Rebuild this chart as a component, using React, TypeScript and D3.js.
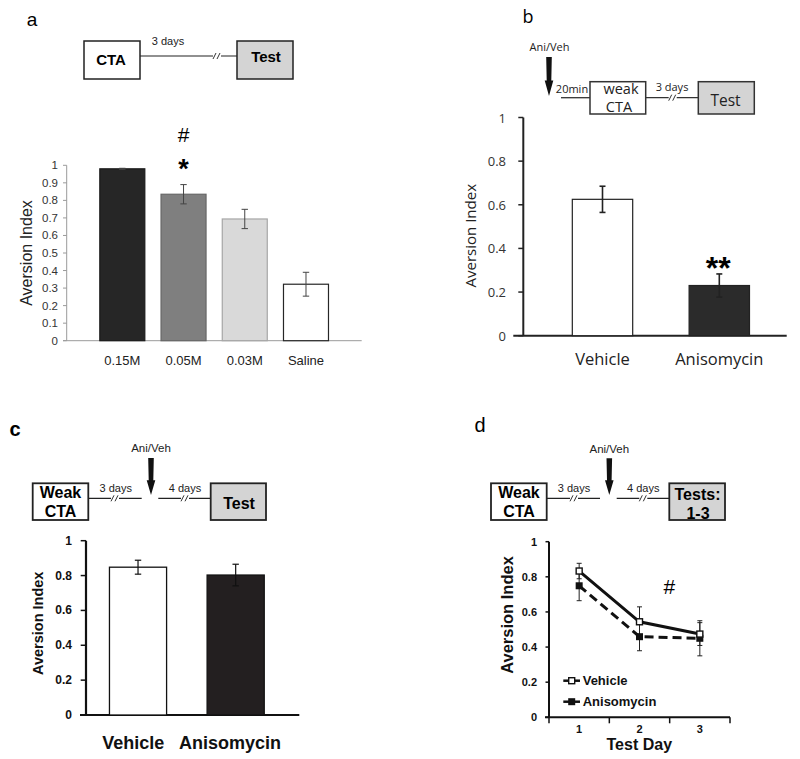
import React from 'react';
import * as d3 from 'd3';

const concentrations = ['0.15M', '0.05M', '0.03M', 'Saline'];
const aversionA = [0.98, 0.835, 0.694, 0.322];
const semA = [0.003, 0.055, 0.055, 0.068];
const ticksA = [0, 0.1, 0.2, 0.3, 0.4, 0.5, 0.6, 0.7, 0.8, 0.9, 1];

const groupsB = ['Vehicle', 'Anisomycin'];
const aversionB = [0.625, 0.23];
const semB = [0.06, 0.053];
const ticksB = [0, 0.2, 0.4, 0.6, 0.8, 1];

const groupsC = ['Vehicle', 'Anisomycin'];
const aversionC = [0.848, 0.803];
const semC = [0.04, 0.062];
const ticksC = [0, 0.2, 0.4, 0.6, 0.8, 1];

const testDays = ['1', '2', '3'];
const vehicleD = [0.833, 0.544, 0.474];
const vehicleSemD = [0.044, 0.085, 0.065];
const anisomycinD = [0.749, 0.459, 0.45];
const anisomycinSemD = [0.085, 0.08, 0.1];
const ticksD = [0, 0.2, 0.4, 0.6, 0.8, 1];

const ARIAL = 'Liberation Sans, Arial, sans-serif';
const OPEN = '"Open Sans", "Noto Sans", sans-serif';

function Break({ x, y, color = '#333' }: { x: number; y: number; color?: string }) {
  return (
    <g>
      <rect x={x - 4} y={y - 2} width={8} height={4} fill="#fff" />
      <line x1={x - 4} y1={y + 3} x2={x - 1} y2={y - 3} stroke={color} strokeWidth={1} />
      <line x1={x} y1={y + 3} x2={x + 3} y2={y - 3} stroke={color} strokeWidth={1} />
    </g>
  );
}

function Arrow({ x, top, bottom }: { x: number; top: number; bottom: number }) {
  const h = bottom - top;
  const s = top + h * 0.6;
  const pts = [
    [x - 2.8, top],
    [x + 2.8, top],
    [x + 2.3, s],
    [x + 4.3, s],
    [x, bottom],
    [x - 4.3, s],
    [x - 2.3, s],
  ];
  return <polygon points={pts.map((p) => p.join(',')).join(' ')} fill="#111" />;
}

function ErrBar({ x, y0, y1, cap, color, w }: { x: number; y0: number; y1: number; cap: number; color: string; w: number }) {
  return (
    <g stroke={color} strokeWidth={w}>
      <line x1={x} x2={x} y1={y0} y2={y1} />
      <line x1={x - cap} x2={x + cap} y1={y0} y2={y0} />
      <line x1={x - cap} x2={x + cap} y1={y1} y2={y1} />
    </g>
  );
}

function PanelA() {
  const y = d3.scaleLinear().domain([0, 1]).range([340.7, 165.3]);
  const x = d3.scaleBand().domain(concentrations).range([91.7, 336.6]).paddingInner(0.265).paddingOuter(0.1325);
  const fills = ['#262626', '#7f7f7f', '#d9d9d9', '#ffffff'];
  const strokes = ['#1a1a1a', '#666', '#a6a6a6', '#262626'];
  const axisColor = '#9a9a9a';
  return (
    <g fontFamily={ARIAL}>
      <text x={32} y={19} fontSize={19} textAnchor="middle" dominantBaseline="central">a</text>
      <line x1={140} x2={237} y1={56} y2={56} stroke="#222" strokeWidth={1.2} />
      <Break x={217} y={56} />
      <rect x={84} y={41} width={56} height={38} fill="#fff" stroke="#222" strokeWidth={1.5} />
      <text x={111} y={59.5} fontSize={15} fontWeight="bold" textAnchor="middle" dominantBaseline="central">CTA</text>
      <rect x={237} y={41} width={56} height={38} fill="#d4d4d4" stroke="#222" strokeWidth={1.5} />
      <text x={266} y={56.5} fontSize={15} fontWeight="bold" textAnchor="middle" dominantBaseline="central">Test</text>
      <text x={168} y={41} fontSize={11} fill="#222" textAnchor="middle" dominantBaseline="central">3 days</text>

      <line x1={66.7} x2={66.7} y1={y(1)} y2={y(0)} stroke={axisColor} strokeWidth={1} />
      <line x1={63} x2={361.7} y1={y(0)} y2={y(0)} stroke={axisColor} strokeWidth={1} />
      {ticksA.map((t) => (
        <g key={t}>
          <line x1={63} x2={66.7} y1={y(t)} y2={y(t)} stroke={axisColor} strokeWidth={1} />
          <text x={58} y={y(t)} fontSize={11.5} fill="#333" textAnchor="end" dominantBaseline="central">{String(t)}</text>
        </g>
      ))}
      <text transform={`translate(26.7,253) rotate(-90)`} fontSize={16} fill="#222" textAnchor="middle" dominantBaseline="central">Aversion Index</text>
      {concentrations.map((c, i) => {
        const bx = x(c)!;
        const cx = bx + x.bandwidth() / 2;
        return (
          <g key={c}>
            <rect x={bx} y={y(aversionA[i])} width={x.bandwidth()} height={y(0) - y(aversionA[i])} fill={fills[i]} stroke={strokes[i]} strokeWidth={1.2} />
            <ErrBar x={cx} y0={y(aversionA[i] + semA[i])} y1={y(aversionA[i] - semA[i])} cap={3.2} color="#444" w={1} />
            <text x={cx} y={360} fontSize={13} fill="#222" textAnchor="middle" dominantBaseline="central">{c}</text>
          </g>
        );
      })}
      <text x={x('0.05M')! + x.bandwidth() / 2} y={134} fontSize={21} textAnchor="middle" dominantBaseline="central">#</text>
      <text x={x('0.05M')! + x.bandwidth() / 2} y={169} fontSize={27} fontWeight="bold" textAnchor="middle" dominantBaseline="central">*</text>
    </g>
  );
}

function PanelB() {
  const y = d3.scaleLinear().domain([0, 1]).range([335.7, 117.5]);
  const x = d3.scaleBand().domain(groupsB).range([544.1, 777.7]).paddingInner(0.483).paddingOuter(0.2415);
  const fills = ['#ffffff', '#2b2b2b'];
  return (
    <g fontFamily={OPEN}>
      <text x={528} y={16} fontSize={18} textAnchor="middle" dominantBaseline="central">b</text>
      <text x={549.5} y={46.7} fontSize={11} fill="#222" textAnchor="middle" dominantBaseline="central">Ani/Veh</text>
      <Arrow x={549} top={57} bottom={96} />
      <text x={572} y={88} fontSize={11} fill="#222" textAnchor="middle" dominantBaseline="central">20min</text>
      <line x1={561} x2={590} y1={97.7} y2={97.7} stroke="#333" strokeWidth={1.3} />
      <line x1={645.7} x2={698.3} y1={97.7} y2={97.7} stroke="#333" strokeWidth={1.3} />
      <Break x={672.7} y={97.7} />
      <text x={672} y={86} fontSize={11} fill="#222" textAnchor="middle" dominantBaseline="central">3 days</text>
      <rect x={590} y={81.7} width={55.7} height={32.3} fill="#fff" stroke="#333" strokeWidth={1.5} />
      <text x={621} y={88} fontSize={14.5} fill="#222" textAnchor="middle" dominantBaseline="central">weak</text>
      <text x={619} y={106} fontSize={14.5} fill="#222" textAnchor="middle" dominantBaseline="central">CTA</text>
      <rect x={698.3} y={81.7} width={56} height={32.3} fill="#d4d4d4" stroke="#333" strokeWidth={1.5} />
      <text x={725.5} y={100} fontSize={15.5} fill="#222" textAnchor="middle" dominantBaseline="central">Test</text>

      <line x1={523.3} x2={523.3} y1={y(1)} y2={y(0)} stroke="#222" strokeWidth={2} />
      <line x1={513.3} x2={786.7} y1={y(0)} y2={y(0)} stroke="#222" strokeWidth={2} />
      {ticksB.map((t) => (
        <g key={t}>
          <line x1={518.3} x2={523.3} y1={y(t)} y2={y(t)} stroke="#222" strokeWidth={1.5} />
          <text x={506} y={y(t)} fontSize={13} fill="#333" textAnchor="end" dominantBaseline="central">{String(t)}</text>
        </g>
      ))}
      <text transform={`translate(470,235.7) rotate(-90)`} fontSize={15} fill="#222" textAnchor="middle" dominantBaseline="central">Aversion Index</text>
      {groupsB.map((g, i) => {
        const bx = x(g)!;
        const cx = bx + x.bandwidth() / 2;
        return (
          <g key={g}>
            <rect x={bx} y={y(aversionB[i])} width={x.bandwidth()} height={y(0) - y(aversionB[i])} fill={fills[i]} stroke="#222" strokeWidth={1.2} />
            <ErrBar x={cx} y0={y(aversionB[i] + semB[i])} y1={y(aversionB[i] - semB[i])} cap={3} color="#222" w={1.6} />
            <text x={cx} y={358} fontSize={16.5} fill="#222" textAnchor="middle" dominantBaseline="central">{g}</text>
          </g>
        );
      })}
      <text x={x('Anisomycin')! + x.bandwidth() / 2 - 1} y={268} fontSize={32} fontFamily={ARIAL} fontWeight="bold" textAnchor="middle" dominantBaseline="central">**</text>
    </g>
  );
}

function PanelC() {
  const y = d3.scaleLinear().domain([0, 1]).range([715, 540.7]);
  const x = d3.scaleBand().domain(groupsC).range([89.2, 284.5]).paddingInner(0.415).paddingOuter(0.2075);
  const fills = ['#ffffff', '#231f20'];
  return (
    <g fontFamily={ARIAL}>
      <text x={15} y={429} fontSize={20} fontWeight="bold" textAnchor="middle" dominantBaseline="central">c</text>
      <text x={151} y={448.3} fontSize={11.5} fill="#222" textAnchor="middle" dominantBaseline="central">Ani/Veh</text>
      <Arrow x={151} top={458} bottom={495} />
      <line x1={88.3} x2={141.7} y1={498.3} y2={498.3} stroke="#222" strokeWidth={1.2} />
      <Break x={115} y={498.3} />
      <line x1={158.3} x2={210.7} y1={498.3} y2={498.3} stroke="#222" strokeWidth={1.2} />
      <Break x={185} y={498.3} />
      <text x={115.7} y={487.7} fontSize={11} fill="#222" textAnchor="middle" dominantBaseline="central">3 days</text>
      <text x={185} y={487.7} fontSize={11} fill="#222" textAnchor="middle" dominantBaseline="central">4 days</text>
      <rect x={32.7} y={483.3} width={55.6} height={36.7} fill="#fff" stroke="#222" strokeWidth={1.8} />
      <text x={60.5} y={492} fontSize={16} fontWeight="bold" textAnchor="middle" dominantBaseline="central">Weak</text>
      <text x={60.5} y={511} fontSize={16} fontWeight="bold" textAnchor="middle" dominantBaseline="central">CTA</text>
      <rect x={210.7} y={483.3} width={55.3} height={36.7} fill="#d4d4d4" stroke="#222" strokeWidth={1.8} />
      <text x={239} y={503} fontSize={16} fontWeight="bold" textAnchor="middle" dominantBaseline="central">Test</text>

      <line x1={86} x2={86} y1={y(1)} y2={y(0)} stroke="#111" strokeWidth={2.2} />
      <line x1={80} x2={299.3} y1={y(0)} y2={y(0)} stroke="#111" strokeWidth={2.2} />
      {ticksC.map((t) => (
        <g key={t}>
          <line x1={80.7} x2={86} y1={y(t)} y2={y(t)} stroke="#111" strokeWidth={1.5} />
          <text x={72} y={y(t)} fontSize={12} fontWeight="bold" fill="#111" textAnchor="end" dominantBaseline="central">{String(t)}</text>
        </g>
      ))}
      <text transform={`translate(38.3,623.3) rotate(-90)`} fontSize={14.5} fontWeight="bold" fill="#111" textAnchor="middle" dominantBaseline="central">Aversion Index</text>
      {groupsC.map((g, i) => {
        const bx = x(g)!;
        const cx = bx + x.bandwidth() / 2;
        return (
          <g key={g}>
            <rect x={bx} y={y(aversionC[i])} width={x.bandwidth()} height={y(0) - y(aversionC[i])} fill={fills[i]} stroke="#111" strokeWidth={1.3} />
            <ErrBar x={cx} y0={y(aversionC[i] + semC[i])} y1={y(aversionC[i] - semC[i])} cap={3.2} color="#111" w={1.2} />
          </g>
        );
      })}
      <text x={133.3} y={743.3} fontSize={18} fontWeight="bold" fill="#111" textAnchor="middle" dominantBaseline="central">Vehicle</text>
      <text x={230} y={743.3} fontSize={18} fontWeight="bold" fill="#111" textAnchor="middle" dominantBaseline="central">Anisomycin</text>
    </g>
  );
}

function PanelD() {
  const y = d3.scaleLinear().domain([0, 1]).range([717.3, 541.7]);
  const x = d3.scaleBand().domain(testDays).range([549, 730]);
  const cx = (d: string) => x(d)! + x.bandwidth() / 2;
  const line = d3.line<number>().x((_, i) => cx(testDays[i])).y((v) => y(v));
  const bounds = [...testDays.map((d) => x(d)!), 730];
  return (
    <g fontFamily={ARIAL}>
      <text x={480} y={425} fontSize={20} textAnchor="middle" dominantBaseline="central">d</text>
      <text x={609.3} y={449} fontSize={11.5} fill="#222" textAnchor="middle" dominantBaseline="central">Ani/Veh</text>
      <Arrow x={609.3} top={458.3} bottom={495} />
      <line x1={546.7} x2={600} y1={498.3} y2={498.3} stroke="#222" strokeWidth={1.2} />
      <Break x={574} y={498.3} />
      <line x1={616.7} x2={669.3} y1={498.3} y2={498.3} stroke="#222" strokeWidth={1.2} />
      <Break x={643.3} y={498.3} />
      <text x={574} y={487.7} fontSize={11} fill="#222" textAnchor="middle" dominantBaseline="central">3 days</text>
      <text x={643.3} y={487.7} fontSize={11} fill="#222" textAnchor="middle" dominantBaseline="central">4 days</text>
      <rect x={491} y={483.3} width={55.7} height={36.7} fill="#fff" stroke="#222" strokeWidth={1.8} />
      <text x={519} y={492.5} fontSize={16} fontWeight="bold" textAnchor="middle" dominantBaseline="central">Weak</text>
      <text x={519} y={511.5} fontSize={16} fontWeight="bold" textAnchor="middle" dominantBaseline="central">CTA</text>
      <rect x={669.3} y={483.3} width={55.7} height={36.7} fill="#d4d4d4" stroke="#222" strokeWidth={1.8} />
      <text x={697.5} y={494.3} fontSize={16} fontWeight="bold" textAnchor="middle" dominantBaseline="central">Tests:</text>
      <text x={698} y={513.3} fontSize={16} fontWeight="bold" textAnchor="middle" dominantBaseline="central">1-3</text>

      <line x1={549} x2={549} y1={y(1)} y2={y(0)} stroke="#111" strokeWidth={2} />
      <line x1={545} x2={730} y1={y(0)} y2={y(0)} stroke="#111" strokeWidth={2} />
      {ticksD.map((t) => (
        <g key={t}>
          <line x1={545.5} x2={549} y1={y(t)} y2={y(t)} stroke="#111" strokeWidth={1.5} />
          <text x={537} y={y(t)} fontSize={11} fontWeight="bold" fill="#111" textAnchor="end" dominantBaseline="central">{String(t)}</text>
        </g>
      ))}
      {bounds.map((b, i) => (
        <line key={i} x1={b} x2={b} y1={y(0)} y2={y(0) + 6} stroke="#111" strokeWidth={1.5} />
      ))}
      {testDays.map((d) => (
        <text key={d} x={cx(d)} y={729.3} fontSize={11} fontWeight="bold" fill="#111" textAnchor="middle" dominantBaseline="central">{d}</text>
      ))}
      <text x={639.3} y={744.5} fontSize={16} fontWeight="bold" fill="#111" textAnchor="middle" dominantBaseline="central">Test Day</text>
      <text transform={`translate(507.3,615) rotate(-90)`} fontSize={16.5} fontWeight="bold" fill="#111" textAnchor="middle" dominantBaseline="central">Aversion Index</text>

      {testDays.map((d, i) => (
        <g key={'e' + d}>
          <ErrBar x={cx(d)} y0={y(vehicleD[i] + vehicleSemD[i])} y1={y(vehicleD[i] - vehicleSemD[i])} cap={2.5} color="#222" w={1} />
          <ErrBar x={cx(d)} y0={y(anisomycinD[i] + anisomycinSemD[i])} y1={y(anisomycinD[i] - anisomycinSemD[i])} cap={2.5} color="#222" w={1} />
        </g>
      ))}
      <path d={line(anisomycinD)!} fill="none" stroke="#111" strokeWidth={3} strokeDasharray="9,5" />
      <path d={line(vehicleD)!} fill="none" stroke="#111" strokeWidth={3} />
      {testDays.map((d, i) => (
        <g key={'m' + d}>
          <rect x={cx(d) - 3.5} y={y(anisomycinD[i]) - 3.5} width={7} height={7} fill="#111" />
          <rect x={cx(d) - 3} y={y(vehicleD[i]) - 3} width={6} height={6} fill="#fff" stroke="#111" strokeWidth={1.4} />
        </g>
      ))}
      <text x={669.3} y={586.7} fontSize={21} textAnchor="middle" dominantBaseline="central">#</text>

      <line x1={563.3} x2={580} y1={680.7} y2={680.7} stroke="#111" strokeWidth={2.5} />
      <rect x={568.7} y={677.7} width={6} height={6} fill="#fff" stroke="#111" strokeWidth={1.4} />
      <text x={582.7} y={680.7} fontSize={13} fontWeight="bold" fill="#111" dominantBaseline="central">Vehicle</text>
      <line x1={563.3} x2={580} y1={701.7} y2={701.7} stroke="#111" strokeWidth={2.5} />
      <rect x={568.2} y={698.2} width={7} height={7} fill="#111" />
      <text x={582.7} y={701.7} fontSize={13} fontWeight="bold" fill="#111" dominantBaseline="central">Anisomycin</text>
    </g>
  );
}

export default function App() {
  return (
    <svg width={800} height={759} viewBox="0 0 800 759" style={{ position: 'absolute', left: 0, top: 0, background: '#fff' }}>
      <rect x={0} y={0} width={800} height={759} fill="#fff" />
      <PanelA />
      <PanelB />
      <PanelC />
      <PanelD />
    </svg>
  );
}
